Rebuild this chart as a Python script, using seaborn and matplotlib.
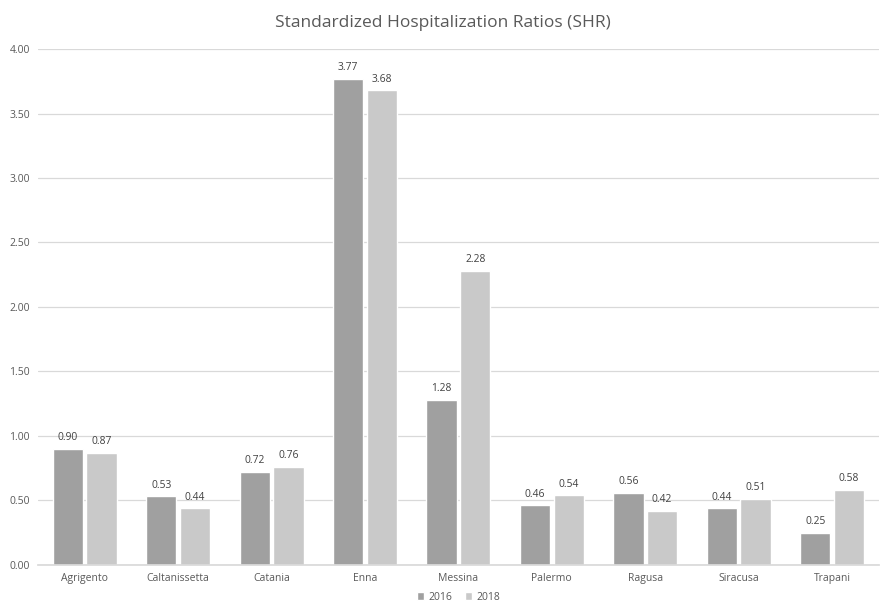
import matplotlib
matplotlib.use("Agg")
import matplotlib.pyplot as plt
import seaborn as sns
import pandas as pd
from matplotlib.ticker import FormatStrFormatter

provinces = ["Agrigento", "Caltanissetta", "Catania", "Enna", "Messina",
             "Palermo", "Ragusa", "Siracusa", "Trapani"]
shr_2016 = [0.90, 0.53, 0.72, 3.77, 1.28, 0.46, 0.56, 0.44, 0.25]
shr_2018 = [0.87, 0.44, 0.76, 3.68, 2.28, 0.54, 0.42, 0.51, 0.58]
years = ["2016", "2018"]

df = pd.DataFrame({
    "Province": provinces * 2,
    "Year": [years[0]] * len(provinces) + [years[1]] * len(provinces),
    "SHR": shr_2016 + shr_2018,
})

sns.set_theme(style="white")
plt.rcParams["font.family"] = ["Open Sans", "DejaVu Sans"]
text_col = "#595959"

fig = plt.figure(figsize=(8.85, 6.06), dpi=100)
ax = fig.add_axes([0.043, 0.068, 0.950, 0.851])

palette = {"2016": "#a0a0a0", "2018": "#c9c9c9"}
sns.barplot(data=df, x="Province", y="SHR", hue="Year", palette=palette,
            width=0.72, gap=0.1, ax=ax, saturation=1, legend=True)

for container in ax.containers:
    ax.bar_label(container, fmt="%.2f", padding=4, fontsize=7.4, color="#404040")

ax.set_ylim(0, 4)
ax.set_yticks([0, 0.5, 1, 1.5, 2, 2.5, 3, 3.5, 4])
ax.yaxis.set_major_formatter(FormatStrFormatter("%.2f"))
ax.grid(axis="y", color="#d9d9d9", linewidth=0.9)
ax.set_axisbelow(True)
for side in ["top", "right", "left"]:
    ax.spines[side].set_visible(False)
ax.spines["bottom"].set_color("#d9d9d9")
ax.tick_params(axis="both", length=0, labelsize=7.5, colors=text_col, pad=6)
ax.set_xlabel("")
ax.set_ylabel("")
fig.suptitle("Standardized Hospitalization Ratios (SHR)", x=0.5, y=0.975,
             fontsize=12.5, color=text_col)

ax.legend(loc="center", bbox_to_anchor=(0.5, -0.063), ncol=2, frameon=False,
          fontsize=7.5, handlelength=0.7, handleheight=0.7, columnspacing=1.2,
          handletextpad=0.4, labelcolor=text_col, borderpad=0.1)

fig.savefig("out.png", dpi=100)
